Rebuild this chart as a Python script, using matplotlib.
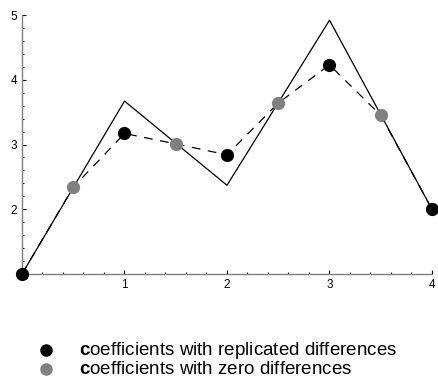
import numpy as np
import matplotlib
matplotlib.use("Agg")
import matplotlib.pyplot as plt
from matplotlib.lines import Line2D
from matplotlib.ticker import MultipleLocator

plt.rcParams['font.family'] = ['Liberation Sans', 'DejaVu Sans']
plt.rcParams['mathtext.fontset'] = 'custom'
plt.rcParams['mathtext.rm'] = 'Liberation Sans'
plt.rcParams['mathtext.bf'] = 'Liberation Sans:bold'

# control polygon (solid)
ctrl_x = [0, 1, 2, 3, 4]
ctrl_y = [1.0, 3.67, 2.37, 4.92, 2.0]

# coefficients with replicated differences (black)
rep_x = [0, 1, 2, 3, 4]
rep_y = [1.0, 3.17, 2.84, 4.23, 2.0]

# coefficients with zero differences (gray)
zero_x = [0.5, 1.5, 2.5, 3.5]
zero_y = [2.34, 3.01, 3.64, 3.45]

labels = [r'$\mathbf{c}$oefficients with replicated differences',
          r'$\mathbf{c}$oefficients with zero differences']
colors = ['black', '#808080']

W, H = 439, 381
fig = plt.figure(figsize=(W / 100, H / 100), dpi=100)
ax = fig.add_axes([22 / W, 1 - 274 / H, 410 / W, 259 / H])

ax.plot(ctrl_x, ctrl_y, color='black', lw=0.9, clip_on=False)

# dashed line through all coefficients in order
all_pts = sorted(list(zip(rep_x, rep_y)) + list(zip(zero_x, zero_y)))
ax.plot([p[0] for p in all_pts], [p[1] for p in all_pts], color='black',
        lw=0.9, dashes=(7, 6), clip_on=False)

ax.plot(zero_x, zero_y, 'o', color=colors[1], ms=9.5, mew=0,
        clip_on=False, zorder=5)
ax.plot(rep_x, rep_y, 'o', color=colors[0], ms=9.5, mew=0,
        clip_on=False, zorder=6)

ax.set_xlim(0, 4)
ax.set_ylim(1, 5)
for s in ['top', 'right']:
    ax.spines[s].set_visible(False)
for s in ['left', 'bottom']:
    ax.spines[s].set_color('#808080')
    ax.spines[s].set_linewidth(1.0)

ax.xaxis.set_minor_locator(MultipleLocator(0.2))
ax.yaxis.set_minor_locator(MultipleLocator(0.2))
ax.set_xticks([1, 2, 3, 4])
ax.set_yticks([2, 3, 4, 5])
ax.tick_params(which='major', direction='in', length=3, width=0.8,
               labelsize=8.5, pad=3.5)
ax.tick_params(which='minor', direction='in', length=1.5, width=0.8)

# legend drawn by hand (rows 19 px apart)
for i, (lab, c) in enumerate(zip(labels, colors)):
    yc = 1 - (350 + 19 * i) / H
    fig.add_artist(Line2D([46 / W], [yc], marker='o', color=c, ms=9,
                          mew=0, transform=fig.transFigure))
    fig.text(79 / W, 1 - (355 + 19 * i) / H, lab, fontsize=13.5,
             va='baseline', ha='left')

fig.savefig('out.png', dpi=100)
